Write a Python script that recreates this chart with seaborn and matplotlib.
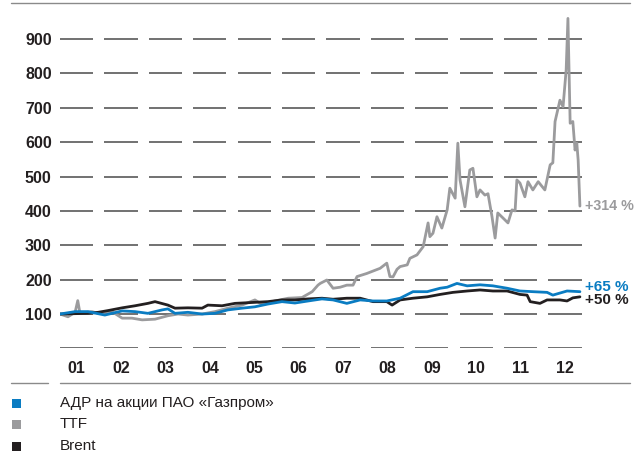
import numpy as np
import pandas as pd
import matplotlib
matplotlib.use("Agg")
import matplotlib.pyplot as plt
from matplotlib.patches import Rectangle
from matplotlib.lines import Line2D
import seaborn as sns

# ---------------- data (t = position in months from 1 Jan, value index = 100 at start)
month_labels = ["01", "02", "03", "04", "05", "06", "07", "08", "09", "10", "11", "12"]
y_ticks = [100, 200, 300, 400, 500, 600, 700, 800, 900]

ttf_t = [0.00, 0.18, 0.34, 0.40, 0.45, 0.72, 0.86, 1.17, 1.40, 1.62, 1.85, 2.14, 2.43, 2.66,
         2.88, 3.20, 3.49, 3.78, 4.10, 4.39, 4.55, 4.84, 5.14, 5.45, 5.68, 5.81, 5.86, 6.01,
         6.15, 6.31, 6.46, 6.60, 6.69, 6.91, 7.21, 7.36, 7.43, 7.50, 7.59, 7.66, 7.82, 7.88,
         8.04, 8.18, 8.29, 8.33, 8.40, 8.49, 8.60, 8.72, 8.78, 8.90, 8.96, 9.01, 9.12, 9.23,
         9.30, 9.39, 9.46, 9.57, 9.64, 9.73, 9.80, 9.86, 9.98, 10.09, 10.18, 10.25, 10.29,
         10.36, 10.47, 10.54, 10.65, 10.77, 10.92, 11.04, 11.10, 11.15, 11.26, 11.33, 11.40,
         11.44, 11.49, 11.55, 11.60, 11.64, 11.67, 11.71]
ttf_v = [100, 92, 105, 139, 102, 107, 102, 107, 88, 88, 83, 85, 95, 100,
         97, 100, 107, 117, 126, 141, 128, 138, 146, 148, 165, 184, 189, 199,
         175, 178, 184, 184, 209, 218, 233, 248, 209, 208, 230, 238, 243, 262,
         272, 296, 365, 325, 335, 383, 350, 403, 466, 437, 597, 490, 412, 519,
         524, 441, 461, 446, 450, 383, 321, 394, 379, 365, 403, 400, 490,
         481, 441, 485, 461, 485, 461, 534, 540, 660, 722, 703, 810,
         960, 655, 660, 577, 597, 548, 414]

gaz_t = [0.00, 0.34, 0.63, 1.01, 1.40, 1.69, 1.98, 2.30, 2.43, 2.59, 2.88, 3.20, 3.49, 3.78,
         4.10, 4.39, 4.68, 5.00, 5.29, 5.59, 5.90, 6.15, 6.46, 6.76, 7.05, 7.36, 7.66, 7.95,
         8.27, 8.56, 8.72, 8.94, 9.17, 9.46, 9.75, 10.07, 10.36, 10.65, 10.97, 11.10, 11.42, 11.71]
gaz_v = [100, 107, 107, 97, 109, 107, 102, 112, 115, 102, 105, 100, 102, 112,
         117, 121, 129, 136, 132, 138, 144, 141, 131, 141, 138, 138, 146, 165,
         165, 175, 178, 189, 182, 185, 182, 175, 167, 165, 163, 155, 167, 165]

brent_t = [0.00, 0.63, 0.86, 1.08, 1.40, 1.69, 1.98, 2.14, 2.43, 2.59, 2.88, 3.20, 3.33, 3.65,
           3.94, 4.39, 4.68, 5.00, 5.29, 5.59, 5.90, 6.15, 6.46, 6.76, 7.05, 7.36, 7.48, 7.66,
           7.95, 8.27, 8.56, 8.85, 9.17, 9.46, 9.75, 10.07, 10.36, 10.52, 10.59, 10.81, 10.97,
           11.26, 11.42, 11.55, 11.71]
brent_v = [100, 102, 105, 110, 118, 124, 131, 136, 126, 117, 118, 117, 126, 124,
           131, 134, 136, 141, 141, 144, 146, 143, 146, 146, 136, 136, 126, 141,
           146, 150, 157, 163, 167, 170, 167, 167, 157, 155, 136, 131, 141,
           141, 138, 147, 150]

series_names = ["АДР на акции ПАО «Газпром»", "TTF", "Brent"]
colors = {"АДР на акции ПАО «Газпром»": "#0a7cc2", "TTF": "#9b9b9d", "Brent": "#231f20"}

df = pd.concat([
    pd.DataFrame({"t": ttf_t, "v": ttf_v, "s": "TTF"}),
    pd.DataFrame({"t": brent_t, "v": brent_v, "s": "Brent"}),
    pd.DataFrame({"t": gaz_t, "v": gaz_v, "s": "АДР на акции ПАО «Газпром»"}),
], ignore_index=True)

# ---------------- style
sns.set_theme(style="white")
plt.rcParams["font.family"] = ["Liberation Sans", "DejaVu Sans"]

W, H = 634, 454
fig = plt.figure(figsize=(W / 100, H / 100), dpi=100)

# axes: x 0..12 months -> px 60..593 ; y 0..1000 -> px 348.4..4.65
ax_left, ax_right = 60, 60 + 12 * 44.4
ax_bottom, ax_top = 348.4, 348.4 - 1000 * 0.34375
ax = fig.add_axes([ax_left / W, (H - ax_bottom) / H, (ax_right - ax_left) / W,
                   (ax_bottom - ax_top) / H])
ax.set_xlim(0, 12)
ax.set_ylim(0, 1000)
for s in ax.spines.values():
    s.set_visible(False)
ax.set_facecolor("none")

# dashed grid: one dash per month at each level
for lvl in [0] + y_ticks:
    for i in range(12):
        ax.plot([i, i + 0.75], [lvl, lvl], color="#4a4a4a", lw=1.1, zorder=1,
                solid_capstyle="butt")

sns.lineplot(data=df, x="t", y="v", hue="s", palette=colors, estimator=None,
             sort=False, lw=2.0, ax=ax, legend=False, zorder=3)

ax.set_xlabel("")
ax.set_ylabel("")
ax.set_yticks(y_ticks)
ax.set_yticklabels([str(v) for v in y_ticks], fontsize=11.5, fontweight="bold", color="#231f20")
ax.set_xticks([i + 0.375 for i in range(12)])
ax.set_xticklabels(month_labels, fontsize=11.5, fontweight="bold", color="#231f20")
ax.tick_params(axis="y", length=0, pad=6)
ax.tick_params(axis="x", length=0, pad=9)

# end labels
ends = [("TTF", ttf_t, ttf_v, 0, 10.3), ("АДР на акции ПАО «Газпром»", gaz_t, gaz_v, 3.5, 11),
        ("Brent", brent_t, brent_v, -2.5, 11)]
for name, tt, vv, dy, fs in ends:
    ax.annotate(f"+{vv[-1] - 100:.0f} %", xy=(tt[-1], vv[-1]), xytext=(3.5, dy),
                textcoords="offset points", ha="left", va="center", fontsize=fs,
                fontweight="bold", color=colors[name], annotation_clip=False)

# frame lines
fig.add_artist(Line2D([11 / W, 630 / W], [(H - 3) / H] * 2, color="#8a8a8a", lw=1.0))
fig.add_artist(Line2D([11 / W, 48 / W], [(H - 383) / H] * 2, color="#8a8a8a", lw=1.0))
fig.add_artist(Line2D([60 / W, 630 / W], [(H - 383) / H] * 2, color="#8a8a8a", lw=1.0))

# legend
for k, name in enumerate(series_names):
    yc = 403 + k * 21.5
    fig.add_artist(Rectangle((12 / W, (H - yc - 4.5) / H), 9 / W, 9 / H,
                             color=colors[name], lw=0))
    fig.text(60 / W, (H - yc) / H, name, fontsize=11, color="#231f20", va="center", ha="left")

fig.savefig("out.png", dpi=100)
